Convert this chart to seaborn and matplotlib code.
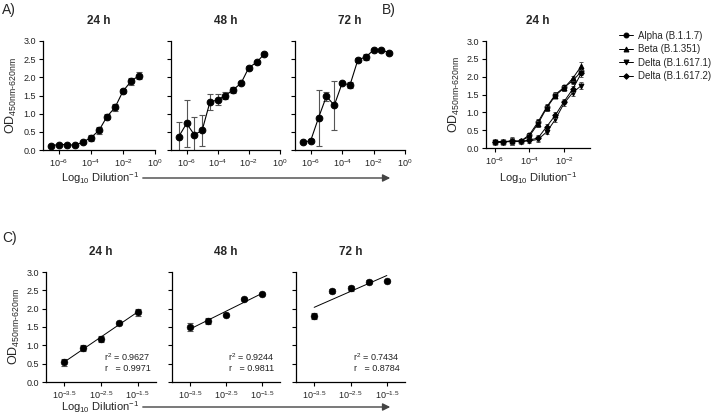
import numpy as np
import matplotlib
matplotlib.use("Agg")
import matplotlib.pyplot as plt
import seaborn as sns

# dilution exponents (log10)
dil_a = [-6.5, -6.0, -5.5, -5.0, -4.5, -4.0, -3.5, -3.0, -2.5, -2.0, -1.5, -1.0]
dil_b = [-6.0, -5.5, -5.0, -4.5, -4.0, -3.5, -3.0, -2.5, -2.0, -1.5, -1.0]
dil_c = [-3.5, -3.0, -2.5, -2.0, -1.5]

# panel A: Alpha at 24/48/72 h
od_24 = [0.12, 0.15, 0.15, 0.13, 0.22, 0.34, 0.54, 0.92, 1.17, 1.62, 1.89, 2.05]
sd_24 = [0.02, 0.02, 0.02, 0.02, 0.03, 0.08, 0.09, 0.07, 0.09, 0.05, 0.09, 0.10]
od_48 = [0.37, 0.73, 0.42, 0.54, 1.32, 1.38, 1.50, 1.66, 1.84, 2.27, 2.41, 2.65]
sd_48 = [0.40, 0.65, 0.50, 0.42, 0.23, 0.15, 0.11, 0.08, 0.03, 0.03, 0.03, 0.03]
od_72 = [0.21, 0.26, 0.89, 1.48, 1.23, 1.84, 1.79, 2.48, 2.56, 2.75, 2.76, 2.67]
sd_72 = [0.02, 0.03, 0.77, 0.13, 0.67, 0.03, 0.07, 0.05, 0.07, 0.03, 0.03, 0.03]

# panel B: variants at 24 h
variants = ["Alpha (B.1.1.7)", "Beta (B.1.351)", "Delta (B.1.617.1)", "Delta (B.1.617.2)"]
markers = ["o", "^", "v", "D"]
od_alpha = [0.17, 0.18, 0.19, 0.19, 0.37, 0.73, 1.15, 1.50, 1.70, 1.88, 2.15]
od_beta = [0.16, 0.17, 0.20, 0.19, 0.33, 0.68, 1.12, 1.47, 1.68, 1.95, 2.30]
od_delta1 = [0.16, 0.17, 0.18, 0.18, 0.20, 0.24, 0.45, 0.80, 1.25, 1.55, 1.75]
od_delta2 = [0.17, 0.18, 0.19, 0.19, 0.22, 0.28, 0.60, 0.92, 1.30, 1.65, 2.10]
sd_b = [0.04, 0.05, 0.10, 0.04, 0.06, 0.08, 0.07, 0.08, 0.07, 0.08, 0.10]

# panel C: linear range
od_c24 = [0.54, 0.92, 1.17, 1.61, 1.90]
sd_c24 = [0.10, 0.08, 0.09, 0.04, 0.09]
od_c48 = [1.49, 1.67, 1.82, 2.26, 2.41]
sd_c48 = [0.11, 0.08, 0.03, 0.03, 0.03]
od_c72 = [1.80, 2.49, 2.56, 2.74, 2.76]
sd_c72 = [0.07, 0.05, 0.07, 0.03, 0.03]
fit_text = ["r$^2$ = 0.9627\nr   = 0.9971", "r$^2$ = 0.9244\nr   = 0.9811", "r$^2$ = 0.7434\nr   = 0.8784"]

times = ["24 h", "48 h", "72 h"]

sns.set_style("ticks")
plt.rcParams["font.family"] = ["Liberation Sans", "DejaVu Sans"]
plt.rcParams["mathtext.fontset"] = "custom"
plt.rcParams["mathtext.rm"] = "Liberation Sans"
plt.rcParams["mathtext.it"] = "Liberation Sans:italic"
plt.rcParams["mathtext.bf"] = "Liberation Sans:bold"
plt.rcParams["mathtext.default"] = "regular"

W, H = 720, 416
fig = plt.figure(figsize=(7.2, 4.16), dpi=100)


def px_axes(left, right, top, bottom):
    return fig.add_axes([left / W, 1 - bottom / H, (right - left) / W, (bottom - top) / H])


def fmt_pow(v):
    return "$10^{%s}$" % ("%g" % v)


def style_ax(ax, xticks, xlim, ylab, title):
    ax.set_ylim(0, 3)
    ax.set_yticks([0, 0.5, 1.0, 1.5, 2.0, 2.5, 3.0])
    ax.set_xlim(*xlim)
    ax.set_xticks(xticks)
    ax.set_xticklabels([fmt_pow(v) for v in xticks])
    sns.despine(ax=ax)
    for s in ["left", "bottom"]:
        ax.spines[s].set_linewidth(0.9)
        ax.spines[s].set_color("black")
    ax.tick_params(length=3, width=0.8, labelsize=6.5, pad=2, colors="black", labelcolor="#222222")
    ax.set_xlabel("")
    if ylab:
        ax.set_yticklabels(["0.0", "0.5", "1.0", "1.5", "2.0", "2.5", "3.0"])
        ax.set_ylabel("OD$_{450nm\u2010620nm}$", fontsize=9, labelpad=3)
    else:
        ax.set_yticklabels([])
        ax.set_ylabel("")
    if title:
        ax.set_title(title, fontsize=8.5, fontweight="bold", pad=12)


# ---- panel A ----
a_pos = [(43, 155), (171, 280), (295, 405)]
for i, (od, sd) in enumerate([(od_24, sd_24), (od_48, sd_48), (od_72, sd_72)]):
    ax = px_axes(a_pos[i][0], a_pos[i][1], 41, 150)
    ax.errorbar(dil_a, od, yerr=sd, fmt="none", ecolor="#555555", elinewidth=0.8, capsize=2, capthick=0.8)
    sns.lineplot(x=dil_a, y=od, ax=ax, color="black", lw=0.8, marker="o", markersize=4.8,
                 markeredgecolor="black", errorbar=None)
    style_ax(ax, [-6, -4, -2, 0], (-7, 0), i == 0, times[i])

# ---- panel B ----
axb = px_axes(486, 590, 41, 148)
for name, m, od in zip(variants, markers, [od_alpha, od_beta, od_delta1, od_delta2]):
    axb.errorbar(dil_b, od, yerr=sd_b, fmt="none", ecolor="#555555", elinewidth=0.7, capsize=1.5, capthick=0.7)
    sns.lineplot(x=dil_b, y=od, ax=axb, color="black", lw=0.7, marker=m,
                 markersize=3.5 if m != "D" else 2.8, markeredgecolor="black", errorbar=None, label=name)
style_ax(axb, [-6, -4, -2], (-6.5, -0.5), True, "24 h")
axb.legend(loc="upper left", bbox_to_anchor=(615 / W, 1 - 27 / H), bbox_transform=fig.transFigure,
           frameon=False, fontsize=7, handlelength=1.4, handletextpad=0.6, labelspacing=0.35,
           borderaxespad=0)

# ---- panel C ----
c_pos = [(46, 156), (172, 280), (296, 405)]
for i, (od, sd) in enumerate([(od_c24, sd_c24), (od_c48, sd_c48), (od_c72, sd_c72)]):
    ax = px_axes(c_pos[i][0], c_pos[i][1], 272, 382)
    ax.errorbar(dil_c, od, yerr=sd, fmt="none", ecolor="#555555", elinewidth=0.8, capsize=2, capthick=0.8)
    sns.regplot(x=dil_c, y=od, ax=ax, ci=None, scatter=False, color="black", line_kws={"lw": 0.7})
    sns.scatterplot(x=dil_c, y=od, ax=ax, color="black", s=24, edgecolor="black", zorder=3)
    style_ax(ax, [-3.5, -2.5, -1.5], (-4, -1), i == 0, times[i])
    ax.text(0.95, 0.08, fit_text[i], transform=ax.transAxes, ha="right", va="bottom",
            fontsize=6.5, color="#222222", linespacing=1.2)

# ---- axis captions with arrows ----
xl = "Log$_{10}$ Dilution$^{-1}$"
for y in (178, 407):
    fig.text(100 / W, 1 - y / H, xl, ha="center", va="center", fontsize=8)
    fig.add_artist(matplotlib.patches.FancyArrowPatch(
        (140 / W, 1 - y / H), (393 / W, 1 - y / H), transform=fig.transFigure,
        arrowstyle="-|>", mutation_scale=11, lw=1.0, color="#444444"))
fig.text(538 / W, 1 - 178 / H, xl, ha="center", va="center", fontsize=8)

# panel letters
fig.text(2 / W, 1 - 10 / H, "A)", fontsize=10, va="center")
fig.text(382 / W, 1 - 10 / H, "B)", fontsize=10, va="center")
fig.text(2 / W, 1 - 238 / H, "C)", fontsize=10, va="center")

fig.savefig("out.png", dpi=100)
